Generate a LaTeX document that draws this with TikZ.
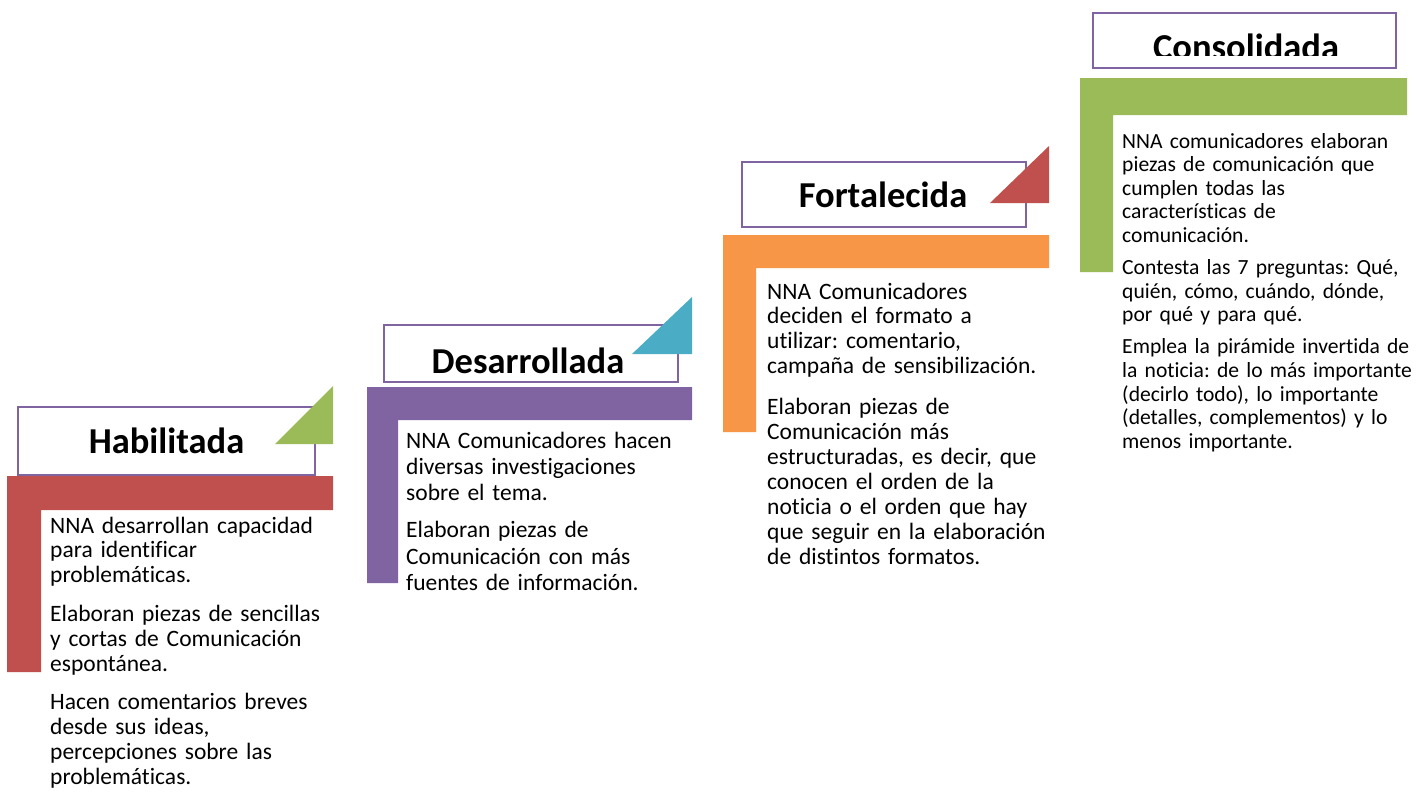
\documentclass[tikz,border=0pt]{standalone}
\usepackage{fontspec}
\setmainfont{Carlito}[Ligatures=NoCommon]
\frenchspacing
\definecolor{cred}{HTML}{C0504D}
\definecolor{cpurple}{HTML}{8064A2}
\definecolor{cteal}{HTML}{4BACC6}
\definecolor{corange}{HTML}{F79646}
\definecolor{cgreen}{HTML}{9BBB59}
\begin{document}
\begin{tikzpicture}[x=1pt,y=-1pt,
  titlebox/.style={draw=cpurple, line width=2pt, fill=white},
  titletext/.style={font=\fontsize{36.5}{40}\selectfont\bfseries, anchor=base, inner sep=0},
  body/.style={anchor=base west, inner sep=0, text width=330pt, align=left}
]
\useasboundingbox[fill=white] (0,0) rectangle (1416,793);

% ---------- Step 1: Habilitada ----------
\draw[titlebox] (18,407) rectangle (315,475);
\node[titletext] (t1) at (166.5,453) {Habilitada};
\fill[cgreen] (275,444) -- (333,386) -- (333,444) -- cycle;
\fill[cred] (7,476) -- (333,476) -- (333,510) -- (41,510) -- (41,672) -- (7,672) -- cycle;
\node[body, font=\fontsize{23.5}{24.8}\selectfont] (b1) at (50,533) {%
\setlength{\parskip}{14pt}%
NNA desarrollan capacidad\\ para identificar\\ problemáticas.\par
Elaboran piezas de sencillas\\ y cortas de Comunicación\\ espontánea.\par
Hacen comentarios breves\\ desde sus ideas,\\ percepciones sobre las\\ problemáticas.};

% ---------- Step 2: Desarrollada ----------
\draw[titlebox] (384,325) rectangle (678,382);
\node[titletext] (t2) at (528,373) {Desarrollada};
\fill[cteal] (632,354) -- (692,297) -- (692,354) -- cycle;
\fill[cpurple] (367,387) -- (692,387) -- (692,420) -- (398,420) -- (398,583) -- (367,583) -- cycle;
\node[body, font=\fontsize{23.5}{26.3}\selectfont] (b2) at (406,448) {%
\setlength{\parskip}{11pt}%
NNA Comunicadores hacen\\ diversas investigaciones\\ sobre el tema.\par
Elaboran piezas de\\ Comunicación con más\\ fuentes de información.};

% ---------- Step 3: Fortalecida ----------
\draw[titlebox] (742,162) rectangle (1026,227);
\node[titletext] (t3) at (883,207) {Fortalecida};
\fill[cred] (990,203) -- (1049,146) -- (1049,203) -- cycle;
\fill[corange] (723,235) -- (1049,235) -- (1049,268) -- (756,268) -- (756,432) -- (723,432) -- cycle;
\node[body, font=\fontsize{23.5}{24.9}\selectfont] (b3) at (767,299) {%
\setlength{\parskip}{16pt}%
NNA Comunicadores\\ deciden el formato a\\ utilizar: comentario,\\ campaña de sensibilización.\par
Elaboran piezas de\\ Comunicación más\\ estructuradas, es decir, que\\ conocen el orden de la\\ noticia o el orden que hay\\ que seguir en la elaboración\\ de distintos formatos.};

% ---------- Step 4: Consolidada ----------
\draw[titlebox] (1093,13) rectangle (1396,68);
\begin{scope}
\clip (1094,14) rectangle (1395,55);
\node[titletext] (t4) at (1246,59.5) {Consolidada};
\end{scope}
\fill[cgreen] (1080,78) -- (1407,78) -- (1407,115) -- (1113,115) -- (1113,272) -- (1080,272) -- cycle;
\node[body, font=\fontsize{21.6}{23.6}\selectfont] (b4) at (1122,148) {%
\setlength{\parskip}{8.5pt}%
NNA comunicadores elaboran\\ piezas de comunicación que\\ cumplen todas las\\ características de\\ comunicación.\par
Contesta las 7 preguntas: Qué,\\ quién, cómo, cuándo, dónde,\\ por qué y para qué.\par
Emplea la pirámide invertida de\\ la noticia: de lo más importante\\ (decirlo todo), lo importante\\ (detalles, complementos) y lo\\ menos importante.};
\end{tikzpicture}
\end{document}
